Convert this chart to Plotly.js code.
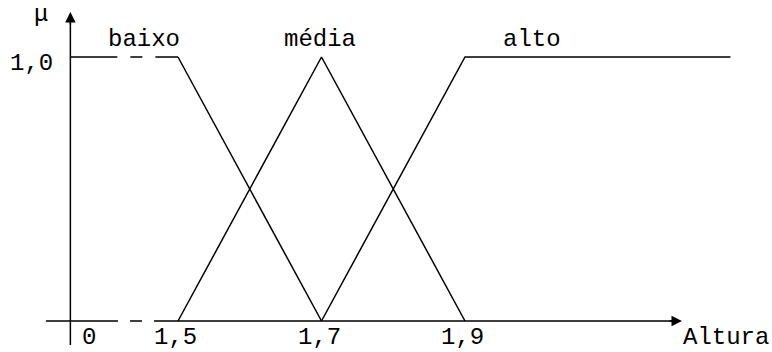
<!DOCTYPE html>
<html>
<head>
<meta charset="utf-8">
<script src="https://cdn.plot.ly/plotly-3.0.1.min.js"></script>
<style>html,body{margin:0;padding:0;background:#fff;}#chart{width:772px;height:352px;}</style>
</head>
<body>
<div id="chart"></div>
<script>
// ---- data ----
const termNames = ['baixo', 'média', 'alto'];
const xOrigin = 1.35;            // position of the broken axis origin ("0")
const baixoPlateauX = [1.35, 1.5];
const baixoPlateauY = [1, 1];
const baixoX = [1.5, 1.7];
const baixoY = [1, 0];
const mediaX = [1.5, 1.7, 1.9];
const mediaY = [0, 1, 0];
const altoX = [1.7, 1.9, 2.27];
const altoY = [0, 1, 1];
const tickVals = [1.5, 1.7, 1.9];
const tickText = ['1,5', '1,7', '1,9'];
const yTickText = '1,0';
const xTitle = 'Altura';
const yTitle = 'μ';

// ---- layout helpers ----
const FONT = {family: '"Liberation Mono", "Courier New", monospace', size: 24, color: '#000'};
const LW = 1.5;
const line = {color: '#000', width: LW};

const traces = [
  {x: baixoPlateauX, y: baixoPlateauY, mode: 'lines', line: {color: '#000', width: LW, dash: '47px,13px,12px,13px,30px'}, hoverinfo: 'skip'},
  {x: baixoX, y: baixoY, mode: 'lines', line: line, hoverinfo: 'skip'},
  {x: mediaX, y: mediaY, mode: 'lines', line: line, hoverinfo: 'skip'},
  {x: altoX, y: altoY, mode: 'lines', line: line, hoverinfo: 'skip'}
];

const xMin = 1.25192, xMax = 2.32788, yMin = -0.1174, yMax = 1.2159;
const xAxisStart = 1.316, xAxisEnd = 2.2024;
const yAxisStart = -0.0909, yAxisEnd = 1.1705;

const shapes = [
  {type: 'line', xref: 'x', yref: 'y', x0: xAxisStart, x1: xAxisEnd - 0.01, y0: 0, y1: 0,
   line: {color: '#000', width: LW, dash: '72px,12px,12px,12px,1000px'}},
  {type: 'line', xref: 'x', yref: 'y', x0: xOrigin, x1: xOrigin, y0: yAxisStart, y1: yAxisEnd - 0.03, line: line}
];

const labelY = 1.068;
const tickY = -0.0606;
const annotations = [
  // arrow heads
  {x: xAxisEnd, y: 0, xref: 'x', yref: 'y', ax: -14, ay: 0, text: '', showarrow: true, arrowhead: 2, arrowsize: 1.4, arrowwidth: LW, arrowcolor: '#000'},
  {x: xOrigin, y: yAxisEnd, xref: 'x', yref: 'y', ax: 0, ay: 14, text: '', showarrow: true, arrowhead: 2, arrowsize: 1.4, arrowwidth: LW, arrowcolor: '#000'},
  // term labels
  {x: 1.4526, y: labelY, text: termNames[0]},
  {x: 1.698, y: labelY, text: termNames[1]},
  {x: 1.9934, y: labelY, text: termNames[2]},
  // y tick and title
  {x: 1.2965, y: 0.975, text: yTickText},
  {x: 1.309, y: 1.16, text: yTitle},
  // x ticks
  {x: 1.376, y: tickY, text: '0'},
  ...tickVals.map((v, i) => ({x: v - 0.003, y: tickY, text: tickText[i]})),
  {x: 2.2637, y: tickY, text: xTitle}
].map(a => Object.assign({xref: 'x', yref: 'y', showarrow: false, xanchor: 'center', yanchor: 'middle', font: FONT}, a));

const layout = {
  width: 772, height: 352,
  margin: {l: 0, r: 0, t: 0, b: 0, pad: 0},
  paper_bgcolor: '#fff', plot_bgcolor: '#fff',
  showlegend: false,
  xaxis: {range: [xMin, xMax], visible: false, fixedrange: true},
  yaxis: {range: [yMin, yMax], visible: false, fixedrange: true},
  shapes: shapes,
  annotations: annotations,
  font: FONT
};

Plotly.newPlot('chart', traces, layout, {staticPlot: true, displayModeBar: false});
</script>
</body>
</html>
